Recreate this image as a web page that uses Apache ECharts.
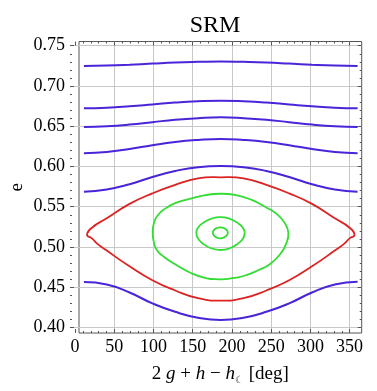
<!DOCTYPE html>
<html lang="en">
<head>
<meta charset="UTF-8">
<title>SRM</title>
<script src="https://cdn.jsdelivr.net/npm/echarts@6/dist/echarts.min.js"></script>
<style>
    html, body { margin: 0; padding: 0; background: #fff; }
    #chart { width: 377px; height: 391px; }
</style>
</head>
<body>
<div id="chart"></div>
<script>
// tick values shown on the frame
var xTicks = [0, 50, 100, 150, 200, 250, 300, 350];
var eTicks = [0.40, 0.45, 0.50, 0.55, 0.60, 0.65, 0.70, 0.75];

// circulating orbits (blue), every 30 deg
var angles = [0, 30, 60, 90, 120, 150, 180, 210, 240, 270, 300, 330, 360];
var blue1 = [0.7248, 0.7254, 0.7265, 0.7279, 0.7292, 0.7300, 0.7305, 0.7300, 0.7292, 0.7279, 0.7265, 0.7254, 0.7248];
var blue2 = [0.6723, 0.6730, 0.6748, 0.6771, 0.6795, 0.6811, 0.6818, 0.6811, 0.6795, 0.6771, 0.6748, 0.6730, 0.6723];
var blue3 = [0.6491, 0.6500, 0.6521, 0.6551, 0.6581, 0.6601, 0.6611, 0.6601, 0.6581, 0.6551, 0.6521, 0.6500, 0.6491];
var blue4 = [0.6164, 0.6180, 0.6218, 0.6265, 0.6305, 0.6330, 0.6342, 0.6330, 0.6305, 0.6265, 0.6218, 0.6180, 0.6164];
var blue5 = [0.5687, 0.5715, 0.5780, 0.5870, 0.5945, 0.5992, 0.6006, 0.5992, 0.5945, 0.5870, 0.5780, 0.5715, 0.5687];
var blue6 = [0.4565, 0.4535, 0.4435, 0.4300, 0.4195, 0.4122, 0.4094, 0.4122, 0.4195, 0.4300, 0.4435, 0.4535, 0.4570];

// separatrix (red) as [angle, e], closed loop starting from its top
var separatrix = [[180, 0.5866], [210, 0.5852], [240, 0.5772], [270, 0.5666], [300, 0.5536], [330, 0.5357], [349.5, 0.5240], [355.9, 0.5150], [349.5, 0.5108], [343, 0.5046], [330, 0.4956], [300, 0.4760], [270, 0.4587], [240, 0.4460], [210, 0.4365], [180, 0.4334], [150, 0.4365], [120, 0.4460], [90, 0.4587], [60, 0.4760], [30, 0.4956], [17, 0.5046], [10.5, 0.5108], [4.1, 0.5150], [10.5, 0.5240], [30, 0.5357], [60, 0.5536], [90, 0.5666], [120, 0.5772], [150, 0.5852]];

// librating orbits (green) as [angle, e], closed loops starting from the top
var green1 = [[179, 0.5662], [200, 0.5645], [220, 0.5588], [240, 0.5492], [255, 0.5400], [264, 0.5300], [268.9, 0.5178], [266, 0.5040], [258, 0.4910], [245, 0.4790], [230, 0.4715], [210, 0.4640], [190, 0.4605], [179, 0.4599], [160, 0.4615], [140, 0.4680], [120, 0.4785], [105, 0.4880], [96, 0.4960], [92, 0.5060], [90.4, 0.5191], [92.5, 0.5315], [97, 0.5392], [105, 0.5465], [120, 0.5545], [140, 0.5600], [160, 0.5645]];
var green2 = [[179.6, 0.5372], [192, 0.5350], [202, 0.5300], [209, 0.5240], [211.5, 0.5180], [209.5, 0.5110], [203, 0.5045], [192, 0.4985], [179.6, 0.4963], [167, 0.4985], [156, 0.5045], [149.8, 0.5110], [147.8, 0.5180], [150, 0.5240], [157, 0.5300], [167, 0.5350]];
var green3 = [[179.4, 0.5245], [185, 0.5232], [188.3, 0.5205], [189.2, 0.5178], [188.3, 0.5150], [185, 0.5122], [179.4, 0.5108], [173.8, 0.5122], [170.5, 0.5150], [169.6, 0.5178], [170.5, 0.5205], [173.8, 0.5232]];

var serif = '"Liberation Serif", "Times New Roman", serif';
var frameColor = '#555';
var blue = '#4a24d8', red = '#dd2222', green = '#33dd33';

var chart = echarts.init(document.getElementById('chart'));

function tickAxis(extra) {
    var base = {
        type: 'value',
        axisLine: { show: false },
        axisTick: { inside: true, length: 4, lineStyle: { color: frameColor } },
        minorTick: { show: true, splitNumber: 5, length: 2, lineStyle: { color: frameColor } },
        axisLabel: { show: false },
        splitLine: { show: false }
    };
    return Object.assign(base, extra);
}

function pairs(values) {
    return values.map(function (e, i) { return [angles[i], e]; });
}

function curve(data, color, width) {
    return {
        type: 'line',
        xAxisIndex: 0,
        yAxisIndex: 0,
        data: data,
        showSymbol: false,
        symbol: 'none',
        smooth: 0.5,
        lineStyle: { color: color, width: width },
        z: 3
    };
}

// closed orbit: drawn as one smooth polygon through the axis coordinates
function loop(data, color, width) {
    return {
        type: 'custom',
        xAxisIndex: 0,
        yAxisIndex: 0,
        data: data,
        silent: true,
        z: 3,
        renderItem: function (params, api) {
            if (params.dataIndex !== 0) return null;
            var pts = data.map(function (p) { return api.coord(p); });
            return {
                type: 'polygon',
                shape: { points: pts, smooth: 0.5 },
                style: { fill: 'none', stroke: color, lineWidth: width }
            };
        }
    };
}

var xStep = xTicks[1] - xTicks[0];
var eStep = +(eTicks[1] - eTicks[0]).toFixed(2);

chart.setOption({
    animation: false,
    title: {
        text: 'SRM',
        left: 210,
        top: 9,
        textAlign: 'center',
        textStyle: { fontFamily: serif, fontSize: 24, fontWeight: 'normal', color: '#000' }
    },
    grid: [
        // plot frame, holds the data
        { left: 70, top: 41.5, width: 291.7, height: 291.5, show: true, borderColor: frameColor, borderWidth: 1, backgroundColor: 'transparent' },
        // x ticks
        { left: 75.1, top: 41.5, width: 274.5, height: 291.5 },
        // e ticks
        { left: 70, top: 45.7, width: 291.7, height: 281.8 }
    ],
    xAxis: [
        {
            type: 'value', gridIndex: 0, min: -6.5, max: 365.4,
            axisLine: { show: false }, axisTick: { show: false }, axisLabel: { show: false }, splitLine: { show: false },
            name: '{n|2 }{i|g}{n| + }{i|h}{n| \u2212 }{i|h}{s|\u263E}{n| [deg]}',
            nameLocation: 'middle',
            nameGap: 30,
            nameTextStyle: {
                color: '#000', fontFamily: serif, fontSize: 19,
                rich: {
                    n: { fontFamily: serif, fontSize: 19, color: '#000', lineHeight: 22 },
                    i: { fontFamily: serif, fontSize: 19, fontStyle: 'italic', color: '#000', lineHeight: 22 },
                    s: { fontFamily: serif, fontSize: 10, color: '#000', lineHeight: 10, verticalAlign: 'bottom' }
                }
            }
        },
        tickAxis({
            gridIndex: 1, position: 'bottom', min: xTicks[0], max: xTicks[xTicks.length - 1], interval: xStep,
            axisLabel: { show: true, margin: 5, color: '#000', fontFamily: serif, fontSize: 18 },
            splitLine: { show: true, showMinLine: false, lineStyle: { color: '#c8c8c8', width: 1 } }
        }),
        tickAxis({ gridIndex: 1, position: 'top', min: xTicks[0], max: xTicks[xTicks.length - 1], interval: xStep }),
        { type: 'value', gridIndex: 2, show: false, min: 0, max: 1 }
    ],
    yAxis: [
        {
            type: 'value', gridIndex: 0, min: 0.3932, max: 0.7553,
            axisLine: { show: false }, axisTick: { show: false }, axisLabel: { show: false }, splitLine: { show: false },
            name: 'e',
            nameLocation: 'middle',
            nameRotate: 90,
            nameGap: 52,
            nameTextStyle: { color: '#000', fontFamily: serif, fontSize: 19 }
        },
        { type: 'value', gridIndex: 1, show: false, min: 0, max: 1 },
        tickAxis({
            gridIndex: 2, position: 'left', min: eTicks[0], max: eTicks[eTicks.length - 1], interval: eStep,
            axisLabel: {
                show: true, margin: 5, color: '#000', fontFamily: serif, fontSize: 18,
                formatter: function (v) { return v.toFixed(2); }
            },
            splitLine: { show: true, lineStyle: { color: '#c8c8c8', width: 1 } }
        }),
        tickAxis({ gridIndex: 2, position: 'right', min: eTicks[0], max: eTicks[eTicks.length - 1], interval: eStep })
    ],
    series: [
        curve(pairs(blue1), blue, 2),
        curve(pairs(blue2), blue, 2),
        curve(pairs(blue3), blue, 2),
        curve(pairs(blue4), blue, 2),
        curve(pairs(blue5), blue, 2),
        curve(pairs(blue6), blue, 2),
        loop(separatrix, red, 1.8),
        loop(green1, green, 1.8),
        loop(green2, green, 1.8),
        loop(green3, green, 1.8)
    ]
});
</script>
</body>
</html>
